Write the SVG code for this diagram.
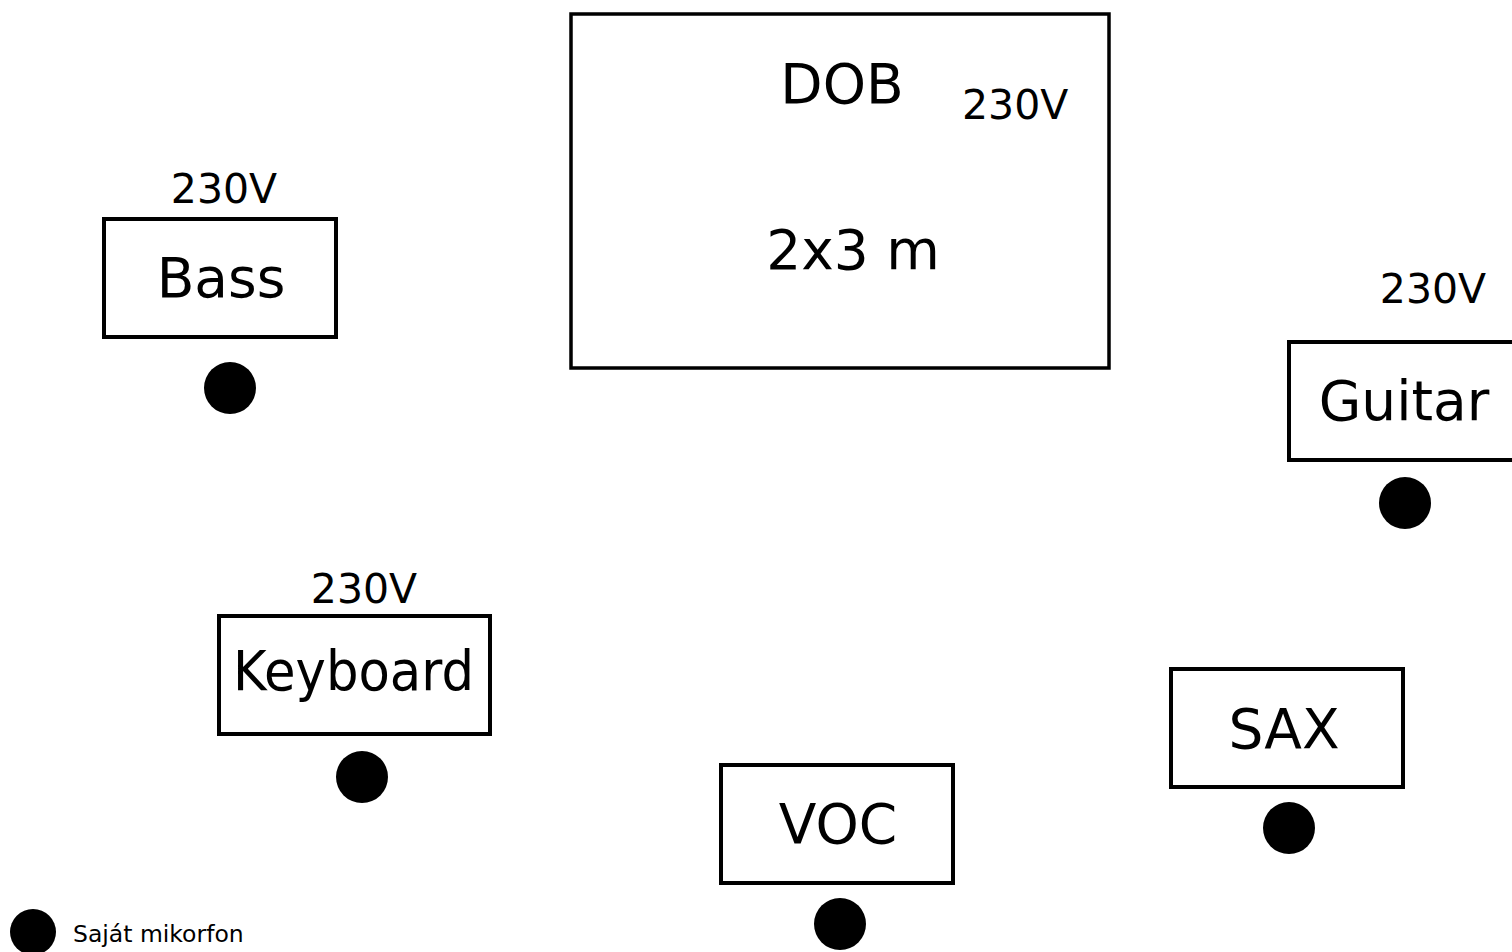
<svg xmlns="http://www.w3.org/2000/svg" width="1512" height="952" viewBox="0 0 1512 952">
<style>
  text { font-family: "DejaVu Sans", "Liberation Sans", sans-serif; fill: #000; }
  .box { fill: #fff; stroke: #000; stroke-width: 4; }
  .big { font-size: 55px; }
  .v { font-size: 41px; }
  .mic { fill: #000; }
</style>
<rect width="1512" height="952" fill="#fff"/>
<g id="dob">
  <rect x="571" y="14" width="538" height="354" fill="#fff" stroke="#000" stroke-width="3.5"/>
  <text class="big" x="842" y="103" text-anchor="middle">DOB</text>
  <text class="v" x="962" y="119">230V</text>
  <text class="big" x="853" y="269" text-anchor="middle">2x3 m</text>
</g>
<g id="bass">
  <text class="v" x="224" y="203" text-anchor="middle">230V</text>
  <rect class="box" x="104" y="219" width="232" height="118"/>
  <text class="big" x="221" y="297" text-anchor="middle">Bass</text>
  <circle class="mic" cx="230" cy="388" r="26"/>
</g>
<g id="guitar">
  <text class="v" x="1433" y="303" text-anchor="middle">230V</text>
  <rect class="box" x="1289" y="342" width="240" height="118"/>
  <text class="big" x="1404" y="420" text-anchor="middle">Guitar</text>
  <circle class="mic" cx="1405" cy="503" r="26"/>
</g>
<g id="keyboard">
  <text class="v" x="364" y="603" text-anchor="middle">230V</text>
  <rect class="box" x="219" y="616" width="271" height="118"/>
  <text class="big" x="233" y="690" textLength="241" lengthAdjust="spacingAndGlyphs">Keyboard</text>
  <circle class="mic" cx="362" cy="777" r="26"/>
</g>
<g id="voc">
  <rect class="box" x="721" y="765" width="232" height="118"/>
  <text class="big" x="838" y="843" text-anchor="middle">VOC</text>
  <circle class="mic" cx="840" cy="924" r="26"/>
</g>
<g id="sax">
  <rect class="box" x="1171" y="669" width="232" height="118"/>
  <text class="big" x="1284" y="748" text-anchor="middle">SAX</text>
  <circle class="mic" cx="1289" cy="828" r="26"/>
</g>
<g id="legend">
  <circle class="mic" cx="33" cy="932" r="23"/>
  <text x="73" y="942" font-size="23.5">Saját mikorfon</text>
</g>
<g id="connectors"></g>
</svg>
